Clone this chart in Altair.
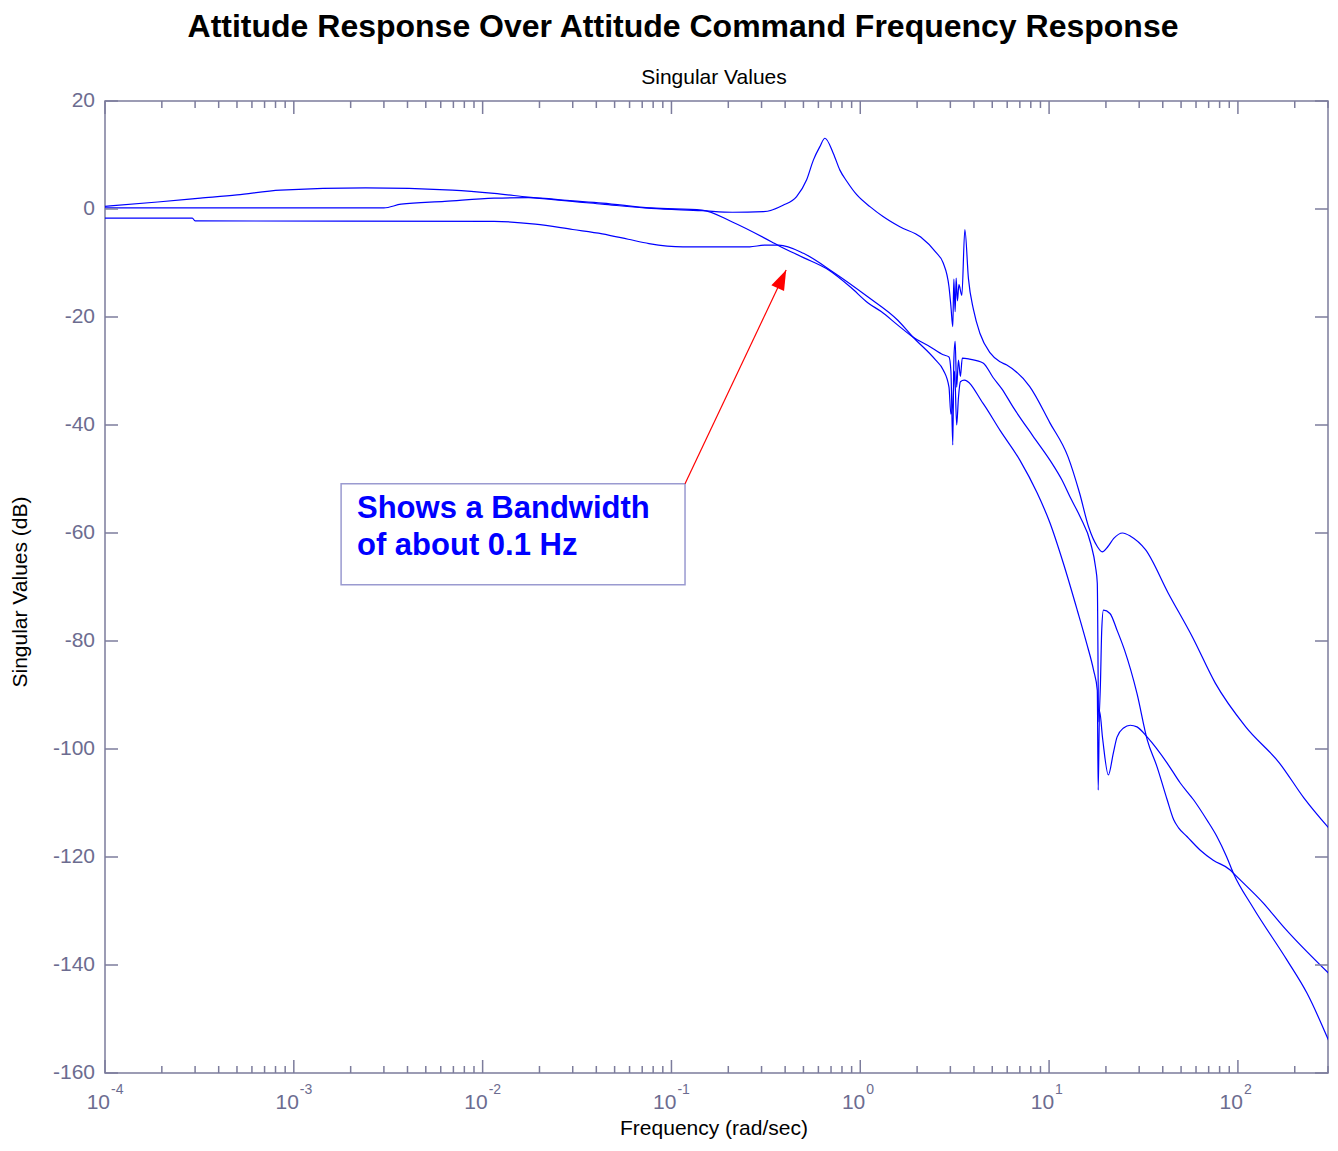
import altair as alt
import pandas as pd

# ---------------- data ----------------
a_freq = [0.0001, 0.00019, 0.00032, 0.0005, 0.00085, 0.0024, 0.0069, 0.0115, 0.0174, 0.043, 0.078, 0.145,
          0.21, 0.307, 0.39, 0.46, 0.52, 0.565, 0.61, 0.65, 0.72, 0.78, 0.85, 0.96, 1.13, 1.32, 1.62, 2.09,
          2.51, 2.75, 2.95, 3.02, 3.09, 3.13, 3.18, 3.22, 3.27, 3.33, 3.45, 3.58, 3.74, 3.98, 4.3, 4.86,
          5.5, 5.97, 7.9, 10.1, 12.6, 14.5, 16.2, 18.0, 19.1, 20.5, 22.0, 24.5, 27.0, 32.4, 42.7, 57.5,
          75.9, 110, 166, 224, 316.23]
a_db = [0.5, 1.3, 2.0, 2.6, 3.5, 3.9, 3.5, 2.9, 2.2, 0.9, 0.1, -0.3,
        -0.6, -0.5, 0.7, 2.3, 5.4, 9.1, 11.5, 13.1, 10.3, 7.2, 5.1, 2.6, 0.4, -1.4, -3.3, -5.2,
        -8.0, -10.0, -14.4, -18.0, -21.8, -13.0, -19.0, -12.8, -17.0, -14.0, -16.0, -3.8, -12.9, -18.7, -23.0, -26.6,
        -28.3, -28.9, -32.9, -39.6, -45.9, -52.6, -58.9, -62.5, -63.5, -62.5, -61.0, -60.0, -60.6, -63.1, -71.1, -79.3,
        -87.8, -95.9, -102.6, -109.1, -115.4]

b_freq = [0.0001, 0.003, 0.0037, 0.0063, 0.0115, 0.0174, 0.03, 0.043, 0.078, 0.145, 0.21, 0.34, 0.37, 0.50,
          0.68, 0.89, 1.1, 1.29, 1.58, 1.9, 2.34, 2.75, 2.95, 3.02, 3.09, 3.13, 3.18, 3.24, 3.31, 3.39, 3.47,
          3.8, 4.47, 5.05, 5.62, 6.45, 8.2, 10.1, 11.7, 12.9, 14.6, 16.6, 17.6, 18.0, 18.3, 18.7, 19.0, 19.4,
          21.0, 22.9, 25.1, 29.2, 33.1, 37.3, 42.2, 45.7, 48.5, 53.7, 63.0, 74.0, 91.0, 94.6, 136, 174, 316.23]
b_db = [0.2, 0.2, 0.9, 1.4, 2.0, 2.1, 1.5, 1.1, 0.2, -0.2, -2.4, -6.1, -6.8, -9.0,
        -11.3, -14.5, -17.4, -19.0, -21.5, -23.7, -25.5, -27.0, -27.4, -30.0, -43.7, -28.0, -24.5, -33.0, -28.0, -31.0, -27.6,
        -27.8, -28.5, -31.2, -33.3, -36.7, -42.0, -46.5, -50.2, -53.3, -57.0, -61.9, -66.2, -69.3, -95.0, -88.0, -78.0, -74.3,
        -74.9, -78.0, -81.7, -89.7, -98.3, -103.3, -109.4, -113.1, -114.6, -116.2, -118.7, -120.6, -122.4, -123.0, -128.5, -132.9, -142.2]

c_freq = [0.0001, 0.00029, 0.0003, 0.0115, 0.019, 0.03, 0.043, 0.059, 0.076, 0.115, 0.26, 0.31, 0.37, 0.5,
          0.72, 1.1, 1.58, 1.9, 2.51, 2.75, 2.95, 3.02, 3.09, 3.16, 3.24, 3.31, 3.39, 3.55, 4.47, 5.5, 7.0,
          8.65, 10.1, 11.9, 14.1, 15.8, 17.2, 18.0, 18.2, 18.5, 19.2, 20.6, 21.9, 22.9, 24.8, 26.9, 29.2, 33.1,
          42.2, 49.5, 58.2, 68.4, 77.4, 87.0, 94.6, 120, 182, 232, 316.23]
c_db = [-1.7, -1.7, -2.2, -2.3, -2.8, -3.8, -4.6, -5.6, -6.4, -7.0, -7.0, -6.7, -6.7, -8.2,
        -11.7, -16.3, -20.6, -23.7, -28.0, -29.8, -33.0, -38.0, -36.0, -30.0, -40.0, -35.0, -32.0, -31.7, -36.0, -41.0, -46.5,
        -52.6, -58.1, -65.6, -74.3, -80.4, -85.4, -89.1, -107.6, -93.0, -98.0, -104.8, -100.7, -97.8, -96.1, -95.6, -95.9, -97.8,
        -102.6, -106.3, -109.4, -113.1, -116.2, -119.9, -123.0, -129.3, -139.1, -145.2, -155.6]

x_decades = [0.0001, 0.001, 0.01, 0.1, 1, 10, 100]
x_exponents = ["-4", "-3", "-2", "-1", "0", "1", "2"]
y_ticks = [20, 0, -20, -40, -60, -80, -100, -120, -140, -160]
y_labels = ["20", "0", "-20", "-40", "-60", "-80", "-100", "-120", "-140", "-160"]

title_text = "Attitude Response Over Attitude Command Frequency Response"
subtitle_text = "Singular Values"
x_title = "Frequency (rad/sec)"
y_title = "Singular Values (dB)"
note_lines = ["Shows a Bandwidth", "of about 0.1 Hz"]
note_box = {"f1": 0.00178, "f2": 0.118, "d1": -50.9, "d2": -69.6}
note_text_pos = {"f": [0.00216, 0.00216], "db": [-57.2, -64.1]}
arrow = {"f1": 0.118, "d1": -50.9, "f2": 0.405, "d2": -11.3}

# ---------------- build ----------------
X_MAX = 300
W, H = 1223, 972
FONT = "Liberation Sans"
FRAME = "#7c7c9c"
LABEL = "#6c6c90"
BLUE = "#0000ff"

x_min = [k * d for d in x_decades for k in range(2, 10) if k * d <= X_MAX]

xs = alt.Scale(type="log", domain=[0.0001, X_MAX], nice=False)
ys = alt.Scale(domain=[-160, 20], nice=False)

rows = []
for name, fr, db in (("a", a_freq, a_db), ("b", b_freq, b_db), ("c", c_freq, c_db)):
    for f, d in zip(fr, db):
        rows.append({"curve": name, "f": f, "db": d})
df = pd.DataFrame(rows)

lines = alt.Chart(df).mark_line(color=BLUE, strokeWidth=1.2, clip=True, interpolate="monotone").encode(
    x=alt.X("f:Q", scale=xs, axis=None),
    y=alt.Y("db:Q", scale=ys, axis=None),
    detail="curve:N",
)

xmaj = pd.DataFrame({"v": x_decades})
xmin = pd.DataFrame({"v": x_min})
ytk = pd.DataFrame({"v": y_ticks, "lab": y_labels})

def xticks(data, length, top):
    y0 = 0 if top else H
    y1 = length if top else H - length
    return alt.Chart(data).mark_rule(color=FRAME, strokeWidth=1.5).encode(
        x=alt.X("v:Q", scale=xs, axis=None), y=alt.value(y0), y2=alt.value(y1))

def yticks(right):
    x0 = W if right else 0
    x1 = W - 13 if right else 13
    return alt.Chart(ytk).mark_rule(color=FRAME, strokeWidth=1.5).encode(
        y=alt.Y("v:Q", scale=ys, axis=None), x=alt.value(x0), x2=alt.value(x1))

tick_layers = [xticks(xmaj, 13, False), xticks(xmaj, 13, True), xticks(xmin, 7, False), xticks(xmin, 7, True),
               yticks(False), yticks(True)]

y_label_layer = alt.Chart(ytk).mark_text(align="right", baseline="middle", font=FONT, fontSize=21,
                                         color=LABEL).encode(
    y=alt.Y("v:Q", scale=ys, axis=None), x=alt.value(-10), text="lab:N")

lab_df = pd.DataFrame({"v": x_decades, "base": ["10"] * len(x_decades), "exp": x_exponents})
base_labels = alt.Chart(lab_df).mark_text(align="right", baseline="alphabetic", dx=5, font=FONT, fontSize=21,
                                          color=LABEL).encode(
    x=alt.X("v:Q", scale=xs, axis=None), y=alt.value(H + 36), text="base:N")
exp_labels = alt.Chart(lab_df).mark_text(align="left", baseline="alphabetic", dx=6, font=FONT, fontSize=14,
                                         color=LABEL).encode(
    x=alt.X("v:Q", scale=xs, axis=None), y=alt.value(H + 21), text="exp:N")

box = alt.Chart(pd.DataFrame([note_box])).mark_rect(fill="white", stroke="#9a9ad0", strokeWidth=1.5).encode(
    x=alt.X("f1:Q", scale=xs, axis=None), x2="f2:Q",
    y=alt.Y("d1:Q", scale=ys, axis=None), y2="d2:Q")
note = alt.Chart(pd.DataFrame({"f": note_text_pos["f"], "db": note_text_pos["db"], "t": note_lines})).mark_text(
    align="left", baseline="alphabetic", font=FONT, fontSize=31, fontWeight="bold", color=BLUE).encode(
    x=alt.X("f:Q", scale=xs, axis=None), y=alt.Y("db:Q", scale=ys, axis=None), text="t:N")

arrow_df = pd.DataFrame([arrow])
arrow_line = alt.Chart(arrow_df).mark_rule(color="#ff0000", strokeWidth=1.2).encode(
    x=alt.X("f1:Q", scale=xs, axis=None), x2="f2:Q",
    y=alt.Y("d1:Q", scale=ys, axis=None), y2="d2:Q")
arrow_head = alt.Chart(arrow_df).mark_point(shape="M0,0L0.7,2L-0.7,2Z", size=400, angle=25, filled=True,
                                            color="#ff0000", opacity=1, strokeWidth=0).encode(
    x=alt.X("f2:Q", scale=xs, axis=None), y=alt.Y("d2:Q", scale=ys, axis=None))

def label(text, x, y, size, bold=False, angle=0, color="black", baseline="alphabetic"):
    kw = dict(align="center", baseline=baseline, font=FONT, fontSize=size, color=color)
    if bold:
        kw["fontWeight"] = "bold"
    if angle:
        kw["angle"] = angle
    return alt.Chart(pd.DataFrame({"t": [text]})).mark_text(**kw).encode(
        text="t:N", x=alt.value(x), y=alt.value(y))

titles = [
    label(title_text, 578, -64, 32, bold=True),
    label(subtitle_text, 609, -17, 21),
    label(x_title, 609, 1034, 21),
    label(y_title, -84, 491, 21, angle=270, baseline="middle"),
]

chart = alt.layer(lines, *tick_layers, y_label_layer, base_labels, exp_labels, box, note, arrow_line, arrow_head,
                  *titles).properties(
    width=W, height=H,
    padding={"left": 97, "top": 93, "right": 2, "bottom": 67},
    autosize=alt.AutoSizeParams(type="none"),
    background="white",
).configure_view(stroke=FRAME, strokeWidth=1.5)

chart.save("out.html", embed_options={"renderer": "svg", "actions": False})
